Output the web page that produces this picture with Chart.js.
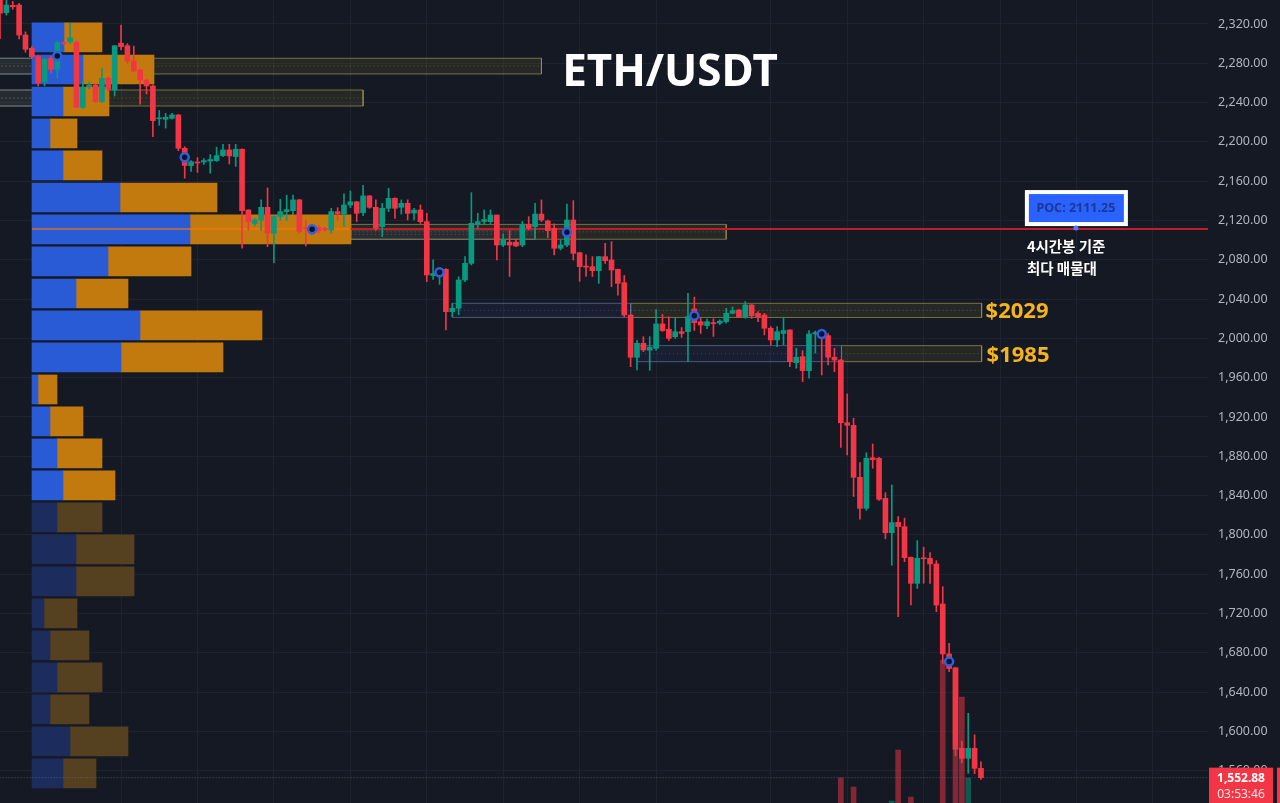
<!DOCTYPE html>
<html><head><meta charset="utf-8">
<script src="https://cdn.jsdelivr.net/npm/chart.js@4.4.1/dist/chart.umd.min.js"></script>
<style>html,body{margin:0;padding:0;background:#151924;overflow:hidden}canvas{display:block}</style>
</head><body>
<canvas id="c" width="1280" height="803" style="width:1280px;height:803px"></canvas>
<script>
// ---- candle data (4h ETH/USDT) ----
const candleOpen  = [2348,2331.5,2339,2339.3,2308.8,2295.3,2286.7,2261.3,2285,2273.9,2301,2302,2301,2235.2,2256,2257.9,2240.9,2264.7,2252.8,2300.4,2297.9,2282.3,2273.2,2263,2256.9,2223.5,2223,2224,2227.4,2193.5,2175.8,2179,2179.5,2180.5,2180.9,2186,2191.8,2185,2192.5,2130.7,2117,2120.5,2133.4,2107,2124,2129,2130,2141,2112,2111,2113,2112,2110.3,2129,2126.5,2135.8,2139,2128,2145,2133.4,2113.7,2132.4,2142.6,2133.4,2137.5,2127.5,2130.7,2118.8,2064,2066,2070.3,2027.2,2030.6,2059.4,2076.4,2116.5,2119,2118.8,2125.6,2095,2098,2098,2095,2116.2,2113.7,2126.5,2119.5,2112,2091.7,2095,2120.5,2087.2,2073.5,2073,2068.9,2083.2,2079.8,2070.3,2056.7,2023.8,1980.8,1995,1988,1989.9,2014.7,2009.3,2001.7,2006.8,2006.8,2030,2017,2013,2016,2015.5,2017,2025.5,2028.9,2022.1,2034,2025.5,2023.8,2010.3,1998.4,2005,2008.6,1975.3,1981.4,1967.1,2004.5,2005.5,2002.8,1980.8,1978,1914.2,1911.5,1858.6,1827,1878.5,1877.9,1837.2,1802.2,1812.8,1808.4,1777.2,1750.7,1776.7,1776.2,1770.4,1729.7,1678.8,1664.2,1582.8,1572.6,1582.8,1562.4];
const candleHigh  = [2350,2344,2343,2341,2312,2297,2288,2285,2287,2303,2302,2320.7,2303,2262,2261,2259,2275,2266.3,2298,2319,2300,2297.5,2274,2264,2258,2232,2229,2229,2228,2195,2181,2184,2183,2187,2194.6,2197.5,2197.5,2197.5,2193,2131,2122,2141,2153.1,2124.5,2141.5,2145.8,2145.8,2141.5,2120,2114,2114.5,2113,2132.4,2133,2147,2150,2139.5,2155.8,2145.5,2141,2137.5,2152.8,2143,2141,2141,2132.4,2135.8,2127.3,2080,2072,2071,2035.7,2062.7,2083.2,2148.3,2127.3,2130.7,2130.7,2125.6,2106.3,2109.7,2101,2119,2123.9,2137.5,2140.9,2120.5,2116.5,2100,2136.8,2140.2,2087.5,2085,2083.2,2083.5,2096.8,2098.5,2070.5,2064,2024,1998,2001.7,2001.7,2029.4,2024.5,2022,2020.4,2011,2045.9,2042,2020.4,2020,2020,2019,2030.6,2032,2029.4,2037.5,2034.5,2027.2,2025.5,2012,2011.9,2021.5,2008.6,1989.9,1987.5,2008,2007.5,2006,2005,1990,1978.5,1943.4,1918.7,1873.5,1883.6,1892.5,1879,1843,1850.8,1818.5,1817,1777.5,1794.2,1787.4,1782,1773.8,1747.3,1689.7,1665,1590,1618.4,1596.5,1569];
const candleLow   = [2305,2329,2335,2304.7,2291.2,2285,2256.9,2256.9,2270,2265,2299,2300,2235,2234,2254,2240,2240,2252,2246.7,2293.5,2280,2271,2238.3,2248.8,2205.3,2217,2214,2223,2191,2163,2170,2169,2177,2168,2180,2185,2177.5,2175,2091.7,2110,2114.5,2110,2093.3,2077,2120,2120,2126,2107,2094,2106,2107,2109,2107,2120,2114,2133,2119,2125,2132.4,2110,2103.5,2129,2122,2126.5,2120.5,2120.5,2117,2057.7,2060,2055,2008.5,2022.1,2024,2057.7,2074.7,2112,2116.5,2117,2079.8,2093.3,2063,2093.3,2093.3,2110.3,2102.5,2118.8,2102.5,2085,2090,2093.3,2079.8,2058,2063,2063,2056,2076.4,2052.6,2044,2022.1,1971.2,1968,1986.5,1967.5,1988,2007,1998,2000,2001,1976.3,2008,2005,2010,2002,2014,2015.5,2025,2021,2020.4,2020.4,2017,2003.5,1993.3,1991.6,1993.3,1971.2,1969.5,1956,1959.5,1985,1962.7,1973,1966,1889,1881.3,1839,1815.9,1825,1867.8,1835,1796,1769,1716.8,1772.7,1728.6,1745.6,1750.7,1750.7,1721.8,1669.3,1660.8,1575,1568,1557.3,1557,1551];
const candleClose = [2331,2339.3,2337.5,2308.8,2294.2,2286.7,2260.3,2284.1,2273.9,2301,2300,2306,2235.2,2255.6,2258,2240.9,2264.7,2253.5,2297.9,2296.9,2282.3,2272.2,2263,2256.9,2221.6,2224.5,2225,2227.4,2193.5,2176,2179.8,2178.5,2181,2182,2186,2191.8,2185.7,2192.5,2130,2118.8,2120.5,2133.4,2107,2124,2129,2131,2141,2108.8,2111.5,2110,2109.5,2110.5,2129,2127,2135.8,2139,2127.3,2145,2133.4,2112,2132.4,2142.6,2132.4,2137.5,2127.3,2130.5,2118.8,2064.5,2066,2070.3,2027.2,2030.6,2059.4,2076.4,2117.1,2118.8,2121,2125.6,2095,2100,2095,2094,2116.2,2112.1,2126.5,2120.5,2109.7,2091.7,2095,2120.5,2086.6,2073,2072.5,2068.9,2083.2,2079.1,2069.6,2056,2023.8,1980.8,1995,1988.2,1991,2014.7,2007.9,2000,2006.8,2005,2022.1,2016,2013.6,2017,2015,2017.5,2025.5,2028.2,2021.5,2034,2023,2022.1,2010.3,1998.4,2006.8,2008,1976.3,1980.8,1967.1,2004.5,2006,2003.5,1980.8,1978,1914.2,1911.5,1858.6,1827,1877.9,1876.5,1836.2,1802.2,1812.4,1808.4,1776.8,1750.7,1776.2,1775.7,1770.4,1728.6,1678.8,1664,1581.8,1572.6,1582.8,1562.4,1552.88];
// volume (only the bars tall enough to show above the pane edge)
const volumeIdx = [132,134,140,141,143,148,150,151,152];
const volumeVal = [65,56,42,93,46,183,176,146,65];

// ---- volume profile (price level rows, buy / sell volume) ----
const profilePrice = [2306.3,2273.7,2241.1,2208.6,2176.0,2143.4,2110.9,2078.3,2045.7,2013.2,1980.6,1948.0,1915.5,1882.9,1850.3,1817.8,1785.2,1752.6,1720.1,1687.5,1654.9,1622.4,1589.8,1557.2];
const profileBuy   = [32,51,31,18,31,88,158,76,44,108,89,6,18,25,31,25,44,44,12,18,25,18,38,31];
const profileSell  = [38,71,46,27,39,97,161,83,52,122,102,19,33,45,52,45,58,58,33,39,45,39,58,33];
const valueAreaRows = 15;

// ---- zones [x start, x end, top, bottom, kind] ----
const zoneStart  = [-1, -1, -1, -1, 55.06, 55.06, 71.0, 99.0, 100.0, 132.1];
const zoneEnd    = [10.0, 10.0, 85.0, 57.0, 114.0, 84.0, 99.0, 154.1, 132.1, 154.1];
const zoneTop    = [2285.1, 2252.8, 2285.1, 2252.8, 2116.0, 2110.5, 2035.7, 2035.7, 1992.6, 1992.6];
const zoneBottom = [2269.1, 2236.5, 2269.1, 2236.5, 2100.9, 2100.9, 2021.3, 2021.3, 1976.3, 1976.3];
const zoneKind   = ['d','d','s','s','s','d','d','s','d','s'];

// markers
const markerIdx   = [9,29,49,69,89,109,129,149];
const markerPrice = [2287.4,2184.3,2111,2067.3,2108,2023.1,2004.5,1671];

const pocPrice = 2111.25;
const lastPrice = 1552.88;
const yTicks = [1560,1600,1640,1680,1720,1760,1800,1840,1880,1920,1960,2000,2040,2080,2120,2160,2200,2240,2280,2320];
const gridIdx = [19,31,43,55,67,79,91,103,121,133,145,157,169,181];
const Y_MIN = 1527.1, Y_MAX = 2344.4, X_MAX = 189.64;

const GREEN = '#089981', RED = '#f23645', GRID = '#1f2331';
const idx = candleOpen.map((_, i) => i);
const cCol = idx.map(i => candleClose[i] >= candleOpen[i] ? GREEN : RED);

Chart.defaults.font.family = '"Noto Sans", sans-serif';

const datasets = [];
datasets.push({type:'bar', data: idx.map(i => ({x:i, y:[candleOpen[i], candleClose[i]]})), backgroundColor: cCol,
  barThickness: 5, minBarLength: 1, grouped:false, order: 5, xAxisID:'x', yAxisID:'y'});
datasets.push({type:'bar', data: idx.map(i => ({x:i, y:[candleLow[i], candleHigh[i]]})), backgroundColor: cCol,
  barThickness: 1, grouped:false, order: 6, xAxisID:'x', yAxisID:'y'});
datasets.push({type:'line', showLine:false, data: markerIdx.map((m,k)=>({x:m, y:markerPrice[k]})),
  pointRadius: 4, pointBorderWidth: 2.5, pointBorderColor:'#2d5fe0', pointBackgroundColor:'#0f1320', order: 1, xAxisID:'x', yAxisID:'y'});
datasets.push({type:'bar', data: volumeIdx.map((v,k)=>({x:v, y:volumeVal[k]})),
  backgroundColor: volumeIdx.map(v => candleClose[v] >= candleOpen[v] ? 'rgba(8,153,129,0.5)' : 'rgba(242,54,69,0.5)'),
  barThickness: 5, grouped:false, order: 20, xAxisID:'x', yAxisID:'yv'});
datasets.push({type:'bar', indexAxis:'y', data: profilePrice.map((p,k)=>({y:p, x:[0, profileBuy[k]]})),
  backgroundColor: profilePrice.map((p,k)=> k < valueAreaRows ? '#2a5bd7' : '#1c2c5c'),
  barThickness: 29, grouped:false, order: 40, xAxisID:'xp', yAxisID:'y'});
datasets.push({type:'bar', indexAxis:'y', data: profilePrice.map((p,k)=>({y:p, x:[profileBuy[k], profileBuy[k]+profileSell[k]]})),
  backgroundColor: profilePrice.map((p,k)=> k < valueAreaRows ? '#c27a0e' : '#55401f'),
  barThickness: 29, grouped:false, order: 40, xAxisID:'xp', yAxisID:'y'});
zoneStart.forEach((x1, k) => {
  const x2 = zoneEnd[k], t = zoneTop[k], b = zoneBottom[k], s = zoneKind[k] === 's';
  datasets.push({type:'line', data:[{x:x1,y:t},{x:x2,y:t},{x:x2,y:b},{x:x1,y:b},{x:x1,y:t}],
    borderColor: s ? 'rgba(150,142,80,0.75)' : 'rgba(95,115,155,0.7)', borderWidth: 1,
    backgroundColor: s ? 'rgba(100,95,45,0.22)' : 'rgba(50,70,120,0.16)', fill:'shape',
    pointRadius: 0, tension: 0, order: 50, xAxisID:'x', yAxisID:'y'});
  datasets.push({type:'line', data:[{x:x1,y:(t+b)/2},{x:x2,y:(t+b)/2}], borderDash:[1,3],
    borderColor: s ? 'rgba(150,142,80,0.5)' : 'rgba(95,115,155,0.5)', borderWidth: 1,
    pointRadius: 0, fill:false, order: 49, xAxisID:'x', yAxisID:'y'});
});
datasets.push({type:'line', data:[{x:5.02,y:pocPrice},{x:55.06,y:pocPrice}], borderColor:'rgba(255,115,10,0.6)', borderWidth:2,
  pointRadius:0, fill:false, order: 30, xAxisID:'x', yAxisID:'y'});
datasets.push({type:'line', data:[{x:55.06,y:pocPrice},{x:X_MAX+1,y:pocPrice}], borderColor:'#c01d29', borderWidth:2,
  pointRadius:0, fill:false, order: 8, xAxisID:'x', yAxisID:'y'});
datasets.push({type:'line', data:[{x:-1,y:lastPrice},{x:X_MAX+1,y:lastPrice}], borderColor:'rgba(130,133,145,0.55)', borderWidth:1,
  borderDash:[1,2], pointRadius:0, fill:false, order: 9, xAxisID:'x', yAxisID:'y'});

const bgPlugin = { id:'bg', beforeDraw(chart){ const c = chart.ctx; c.save(); c.fillStyle = '#151924'; c.fillRect(0,0,chart.width,chart.height); c.restore(); } };

const annotPlugin = { id:'annot', afterDraw(chart){
  const c = chart.ctx, x = chart.scales.x, y = chart.scales.y, area = chart.chartArea;
  c.save();
  c.fillStyle = '#ffffff'; c.font = 'bold 44px "Noto Sans"'; c.textAlign = 'center'; c.textBaseline = 'alphabetic';
  c.fillText('ETH/USDT', 670, 86);
  const px = x.getPixelForValue(168.9), py = y.getPixelForValue(pocPrice);
  c.fillStyle = '#ffffff'; c.fillRect(px - 51, py - 39, 103, 36);
  c.fillStyle = '#2962ff'; c.fillRect(px - 47, py - 35, 95, 28);
  c.fillStyle = '#1e3790'; c.font = 'bold 12.5px "Noto Sans"'; c.textAlign = 'center'; c.textBaseline = 'middle';
  c.fillText('POC: 2111.25', px, py - 21);
  c.fillStyle = '#4f78ff'; c.beginPath(); c.arc(px, py - 1, 2.5, 0, Math.PI*2); c.fill();
  c.fillStyle = '#ffffff'; c.font = 'bold 14.5px "Noto Sans CJK KR"'; c.textAlign = 'left';
  c.fillText('4시간봉 기준', px - 49, py + 17);
  c.fillText('최다 매물대', px - 49, py + 39);
  c.fillStyle = '#f5b31c'; c.font = 'bold 22px "Noto Sans"'; c.textAlign = 'left'; c.textBaseline = 'middle';
  c.fillText('$2029', x.getPixelForValue(zoneEnd[7]) + 4, y.getPixelForValue((zoneTop[7]+zoneBottom[7])/2) + 1);
  c.fillText('$1985', x.getPixelForValue(zoneEnd[9]) + 5, y.getPixelForValue((zoneTop[9]+zoneBottom[9])/2) + 2);
  const ly = y.getPixelForValue(lastPrice);
  c.fillStyle = RED; c.fillRect(area.right + 1, ly - 10, 64, 36); c.fillRect(area.right + 69, ly - 10, 4, 36);
  c.fillStyle = '#ffffff'; c.textAlign = 'center'; c.font = 'bold 12px "Noto Sans"';
  c.fillText(lastPrice.toLocaleString('en-US',{minimumFractionDigits:2}), area.right + 33, ly + 1);
  c.font = '12px "Noto Sans"'; c.fillStyle = '#ffe3e6';
  c.fillText('03:53:46', area.right + 33, ly + 17);
  c.restore();
} };

new Chart(document.getElementById('c'), {
  type: 'bar',
  data: { datasets },
  options: {
    responsive: false, animation: false, events: [],
    layout: { padding: 0, autoPadding: false },
    plugins: { legend: { display: false }, tooltip: { enabled: false }, title: { display: false } },
    scales: {
      x: { type:'linear', axis:'x', min: 0, max: X_MAX, offset: false, position:'bottom', grace: 0,
        afterBuildTicks: s => { s.ticks = gridIdx.map(v => ({value: v})); },
        afterFit: s => { s.height = 0; s.paddingLeft = 0; s.paddingRight = 0; },
        ticks: { display: false }, grid: { color: GRID, drawTicks: false, offset: false }, border: { display: false } },
      xp: { type:'linear', axis:'x', min: -32, max: 1176, offset: false, grace: 0, display: false, grid: { offset: false } },
      y: { type:'linear', axis:'y', position:'right', min: Y_MIN, max: Y_MAX, offset: false, grace: 0, beginAtZero: false, bounds: 'data',
        afterBuildTicks: s => { s.ticks = yTicks.map(v => ({value: v})); },
        afterFit: s => { s.width = 72; s.paddingTop = 0; s.paddingBottom = 0; },
        ticks: { padding: 10, color:'#b2b5be', font: { size: 12.5 }, autoSkip: false,
          callback: v => v.toLocaleString('en-US', {minimumFractionDigits:2, maximumFractionDigits:2}) },
        grid: { color: GRID, drawTicks: false, offset: false }, border: { display: false } },
      yv: { type:'linear', axis:'y', position:'right', min: 40, max: 843, offset: false, grace: 0, display: false, grid: { offset: false } }
    }
  },
  plugins: [bgPlugin, annotPlugin]
});
</script>
</body></html>
